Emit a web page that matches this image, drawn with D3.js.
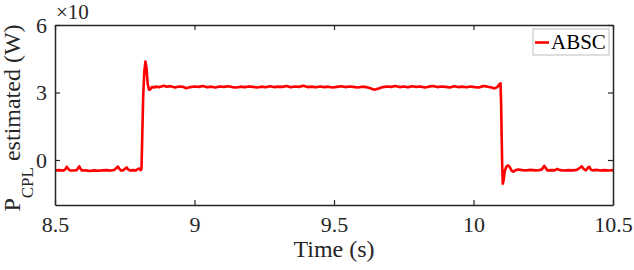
<!DOCTYPE html>
<html>
<head>
<meta charset="utf-8">
<script src="https://cdn.jsdelivr.net/npm/d3@7"></script>
</head>
<body style="margin:0">
<div id="chart-area"></div>
<script>
// Data
var timeS = [
  8.500, 8.515, 8.530, 8.538, 8.542, 8.547, 8.553, 8.565, 8.578, 8.583, 8.587, 8.591, 8.597,
  8.610, 8.625, 8.640, 8.655, 8.670, 8.685, 8.700, 8.712, 8.720, 8.725, 8.730, 8.737, 8.745,
  8.752, 8.757, 8.762, 8.770, 8.780, 8.790, 8.797, 8.802, 8.807, 8.810, 8.813, 8.816, 8.820,
  8.824, 8.828, 8.832, 8.837, 8.842, 8.848, 8.855,
  8.860, 8.875, 8.890, 8.900, 8.915, 8.930, 8.945, 8.960, 8.970, 8.985, 9.000, 9.015, 9.030,
  9.045, 9.060, 9.075, 9.090, 9.105, 9.120, 9.135, 9.150, 9.165, 9.180, 9.195, 9.210, 9.225,
  9.240, 9.255, 9.270, 9.285, 9.300, 9.315, 9.330, 9.345, 9.360, 9.375, 9.390, 9.405, 9.420,
  9.435, 9.450, 9.465, 9.480, 9.495, 9.510, 9.525, 9.540, 9.555, 9.570, 9.585, 9.600, 9.615,
  9.630, 9.645, 9.660, 9.675, 9.690, 9.705, 9.720, 9.735, 9.750, 9.765, 9.780, 9.795, 9.810,
  9.825, 9.840, 9.855, 9.870, 9.885, 9.900, 9.915, 9.930, 9.945, 9.960, 9.975, 9.990, 10.005,
  10.020, 10.035, 10.050, 10.065, 10.075, 10.085, 10.092, 10.097,
  10.099, 10.101, 10.103, 10.105, 10.108, 10.112, 10.118, 10.124, 10.130, 10.137, 10.143,
  10.150, 10.160, 10.175, 10.190, 10.205, 10.220, 10.235, 10.245, 10.250, 10.254, 10.259,
  10.265, 10.280, 10.290, 10.300, 10.310, 10.325, 10.340, 10.355, 10.370, 10.380, 10.388,
  10.395, 10.403, 10.410, 10.415, 10.420, 10.428, 10.440, 10.455, 10.470, 10.485, 10.500
];
var powerW = [
  -0.46, -0.45, -0.47, -0.40, -0.30, -0.38, -0.46, -0.47, -0.45, -0.36, -0.28, -0.38, -0.47,
  -0.46, -0.49, -0.46, -0.48, -0.46, -0.45, -0.47, -0.44, -0.36, -0.29, -0.38, -0.47, -0.45,
  -0.38, -0.33, -0.42, -0.47, -0.45, -0.46, -0.40, -0.38, -0.45, -0.40, 1.20, 2.80, 3.90,
  4.38, 4.10, 3.40, 3.12, 3.15, 3.25, 3.22,
  3.26, 3.24, 3.30, 3.26, 3.28, 3.22, 3.27, 3.25, 3.19, 3.24, 3.27, 3.25, 3.29,
  3.23, 3.26, 3.22, 3.27, 3.25, 3.28, 3.24, 3.22, 3.26, 3.24, 3.27, 3.25, 3.22,
  3.26, 3.23, 3.28, 3.24, 3.26, 3.25, 3.29, 3.23, 3.27, 3.25, 3.30, 3.24, 3.26,
  3.23, 3.27, 3.24, 3.26, 3.22, 3.25, 3.28, 3.24, 3.27, 3.25, 3.22, 3.26, 3.24,
  3.19, 3.12, 3.18, 3.24, 3.27, 3.25, 3.29, 3.24, 3.27, 3.23, 3.28, 3.25, 3.27,
  3.22, 3.26, 3.29, 3.24, 3.27, 3.25, 3.22, 3.28, 3.24, 3.26, 3.23, 3.27, 3.24,
  3.22, 3.29, 3.26, 3.22, 3.18, 3.24, 3.35, 3.41,
  2.50, 1.00, -0.30, -1.05, -0.90, -0.50, -0.28, -0.24, -0.32, -0.48, -0.52,
  -0.46, -0.42, -0.45, -0.46, -0.44, -0.46, -0.45, -0.42, -0.32, -0.26, -0.36,
  -0.46, -0.45, -0.46, -0.40, -0.45, -0.47, -0.45, -0.46, -0.44, -0.36, -0.28,
  -0.40, -0.46, -0.34, -0.30, -0.42, -0.46, -0.44, -0.47, -0.45, -0.47, -0.45
];
var xTicks = [8.5, 9, 9.5, 10, 10.5];
var yTicks = [0, 3, 6];
var seriesName = "ABSC";

var serifFam = "Liberation Serif";
var axisColor = "#262626";

var margin = { left: 55, right: 21, top: 25, bottom: 65 },
    width = 634 - margin.left - margin.right,
    height = 270 - margin.top - margin.bottom;

var root = d3.select("#chart-area")
  .append("svg")
    .attr("width", 634)
    .attr("height", 270);
var svg = root.append("g")
    .attr("transform", "translate(" + margin.left + "," + margin.top + ")");

// Scales
var x = d3.scaleLinear().domain([8.5, 10.5]).range([0, width]);
var y = d3.scaleLinear().domain([-2, 6]).range([height, 0]);

// Data line
var data = timeS.map(function(t, i) { return { t: t, p: powerW[i] }; });
var line = d3.line()
    .x(function(d) { return x(d.t); })
    .y(function(d) { return y(d.p); });

svg.append("path")
    .datum(data)
    .attr("fill", "none")
    .attr("stroke", "#ff0000")
    .attr("stroke-width", 2.6)
    .attr("stroke-linejoin", "round")
    .attr("d", line);

// Axes (MATLAB style box with inward ticks)
var fmt = function(d) { return d3.format("")(d); };
svg.append("g")
    .attr("class", "axis")
    .attr("transform", "translate(0," + height + ")")
    .call(d3.axisBottom(x).tickValues(xTicks).tickSizeInner(-5).tickSizeOuter(0).tickPadding(11).tickFormat(fmt));
svg.append("g")
    .attr("class", "axis")
    .call(d3.axisTop(x).tickValues(xTicks).tickSizeInner(-5).tickSizeOuter(0).tickFormat(""));
svg.append("g")
    .attr("class", "axis")
    .call(d3.axisLeft(y).tickValues(yTicks).tickSizeInner(-5).tickSizeOuter(0).tickPadding(8).tickFormat(fmt));
svg.append("g")
    .attr("class", "axis")
    .attr("transform", "translate(" + width + ",0)")
    .call(d3.axisRight(y).tickValues(yTicks).tickSizeInner(-5).tickSizeOuter(0).tickFormat(""));

svg.selectAll(".axis")
    .attr("font-family", serifFam)
    .attr("font-size", "22px");
svg.selectAll(".axis text")
    .attr("fill", axisColor)
    .attr("font-family", serifFam)
    .attr("font-size", "22px");
svg.selectAll(".axis path").attr("stroke", axisColor).attr("stroke-width", 1.5);
svg.selectAll(".axis line").attr("stroke", axisColor).attr("stroke-width", 1.2);

// Exponent label
svg.append("text")
    .attr("x", 1)
    .attr("y", -6)
    .attr("font-family", serifFam)
    .attr("font-size", "21px")
    .attr("fill", axisColor)
    .text("\u00d710");

// X label
svg.append("text")
    .attr("x", width / 2)
    .attr("y", height + 52)
    .attr("font-family", serifFam)
    .attr("font-size", "24px")
    .attr("fill", axisColor)
    .attr("text-anchor", "middle")
    .text("Time (s)");

// Y label with subscript
var yLabel = svg.append("text")
    .attr("transform", "translate(" + (20 - margin.left) + "," + (118 - margin.top) + ") rotate(-90)")
    .attr("font-family", serifFam)
    .attr("font-size", "24px")
    .attr("fill", axisColor)
    .attr("text-anchor", "middle");
yLabel.append("tspan").text("P");
yLabel.append("tspan").attr("font-size", "17px").attr("dy", 13).text("CPL");
yLabel.append("tspan").attr("dy", -13).text(" estimated (W)");

// Legend
var legend = svg.append("g")
    .attr("transform", "translate(" + (533 - margin.left) + "," + (29 - margin.top) + ")");
legend.append("rect")
    .attr("width", 76)
    .attr("height", 26)
    .attr("fill", "#fff")
    .attr("stroke", "#bdbdbd")
    .attr("stroke-width", 1);
legend.append("line")
    .attr("x1", 2).attr("x2", 16)
    .attr("y1", 13.5).attr("y2", 13.5)
    .attr("stroke", "#ff0000")
    .attr("stroke-width", 2.6);
legend.append("text")
    .attr("x", 18)
    .attr("y", 20)
    .attr("font-family", serifFam)
    .attr("font-size", "21px")
    .attr("fill", "#000")
    .text(seriesName);
</script>
</body>
</html>
